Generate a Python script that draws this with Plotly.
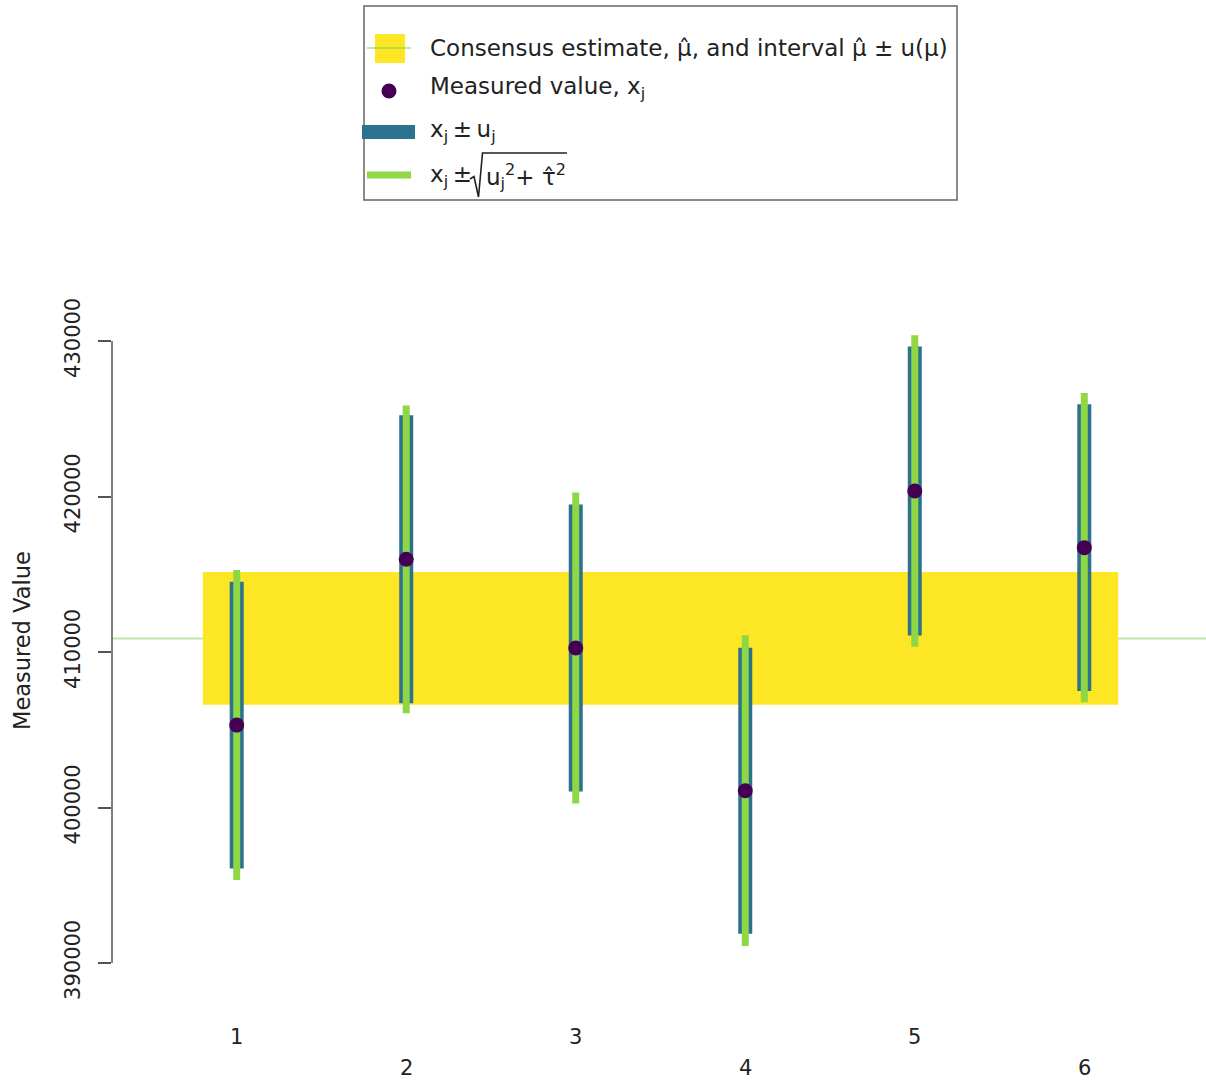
import plotly.graph_objects as go

# ---------------- data ----------------
labs = ["1", "2", "3", "4", "5", "6"]
idx = [1, 2, 3, 4, 5, 6]
meas = [405300, 415960, 410260, 401080, 420350, 416710]      # x_j
u_std = [9220, 9260, 9230, 9200, 9290, 9220]                 # u_j
u_tot = [9970, 9900, 10000, 9990, 10020, 9940]               # sqrt(u_j^2 + tau^2)
mu_hat = 410870
u_mu = 4270
band_x = [0.8, 6.2]
ytick_vals = [390000, 400000, 410000, 420000, 430000]
ytick_text = ["390000", "400000", "410000", "420000", "430000"]

# ---------------- styling ----------------
YELLOW = "#FDE725"
BLUE = "#2C718E"
GREEN = "#8FD744"
PURPLE = "#440154"
MULINE = "rgba(122,209,81,0.5)"
TXT = "#222222"
FONT = "DejaVu Sans"
FS_TICK = 21
FS_LAB = 22.5
FS_LEG = 23

W, H = 1206, 1083
L, R, T, B = 112, 0, 300, 83
PW, PH = W - L - R, H - T - B


def px(x):
    return (x - L) / PW


def py(y):
    return (H - B - y) / PH


pix_per_unit = 155.5 / 10000
y_top = 430000 + (341 - T) / pix_per_unit
y_bot = 430000 - ((H - B) - 341) / pix_per_unit
x_left = 1 - (236.7 - L) / 169.5
x_right = 6 + (W - R - 1084.3) / 169.5

fig = go.Figure()

# x_j +- u_j (blue, wide)
bx, by = [], []
for i, v, s in zip(idx, meas, u_std):
    bx += [i, i, None]
    by += [v - s, v + s, None]
fig.add_trace(go.Scatter(x=bx, y=by, mode="lines",
                         line=dict(color=BLUE, width=14), hoverinfo="skip",
                         showlegend=False))

# x_j +- sqrt(u^2+tau^2) (green, thin)
gx, gy = [], []
for i, v, s in zip(idx, meas, u_tot):
    gx += [i, i, None]
    gy += [v - s, v + s, None]
fig.add_trace(go.Scatter(x=gx, y=gy, mode="lines",
                         line=dict(color=GREEN, width=7), hoverinfo="skip",
                         showlegend=False))

# measured values
fig.add_trace(go.Scatter(x=idx, y=meas, mode="markers",
                         marker=dict(color=PURPLE, size=15, line=dict(width=0)),
                         showlegend=False))

shapes = []
shapes.append(dict(type="rect", xref="x", yref="y", x0=band_x[0], x1=band_x[1],
                   y0=mu_hat - u_mu, y1=mu_hat + u_mu, fillcolor=YELLOW,
                   line=dict(width=0), layer="below"))
shapes.append(dict(type="line", xref="paper", yref="y", x0=0, x1=1,
                   y0=mu_hat, y1=mu_hat, line=dict(color=MULINE, width=2),
                   layer="below"))
shapes.append(dict(type="line", xref="paper", yref="y", x0=0, x1=0,
                   y0=ytick_vals[0], y1=ytick_vals[-1],
                   line=dict(color="#555555", width=1.5)))

# ---------------- legend (manual, R style) ----------------
shapes.append(dict(type="rect", xref="paper", yref="paper",
                   x0=px(364), x1=px(957), y0=py(6), y1=py(200),
                   line=dict(color="#666666", width=1.5), fillcolor="rgba(0,0,0,0)"))
shapes.append(dict(type="rect", xref="paper", yref="paper",
                   x0=px(375), x1=px(405), y0=py(34), y1=py(63),
                   line=dict(width=0), fillcolor=YELLOW))
shapes.append(dict(type="line", xref="paper", yref="paper",
                   x0=px(367), x1=px(411), y0=py(48), y1=py(48),
                   line=dict(color=MULINE, width=2)))
shapes.append(dict(type="circle", xref="paper", yref="paper",
                   x0=px(381.5), x1=px(396.5), y0=py(83.5), y1=py(98.5),
                   line=dict(width=0), fillcolor=PURPLE))
shapes.append(dict(type="line", xref="paper", yref="paper",
                   x0=px(362), x1=px(415), y0=py(132), y1=py(132),
                   line=dict(color=BLUE, width=14)))
shapes.append(dict(type="line", xref="paper", yref="paper",
                   x0=px(367), x1=px(411), y0=py(175), y1=py(175),
                   line=dict(color=GREEN, width=7)))
# radical sign with vinculum
rad = [(470, 179), (474, 176.5), (478.5, 197), (482.5, 153), (567, 153)]
path = "M " + " L ".join(f"{px(a):.5f},{py(b):.5f}" for a, b in rad)
shapes.append(dict(type="path", xref="paper", yref="paper", path=path,
                   line=dict(color=TXT, width=1.6)))

TH = "\u2009"  # thin space
annotations = []
leg_text = [
    ("Consensus estimate, μ̂, and interval μ̂ ± u(μ)", 428, 48),
    ("Measured value, x<sub>j</sub>", 428, 88),
    (f"x<sub>j</sub>{TH}±{TH}u<sub>j</sub>", 428, 131),
    (f"x<sub>j</sub>{TH}±", 428, 176),
    ("u<sub>j</sub><sup>2</sup>+ τ̂<sup>2</sup>", 484, 176),
]
for txt, xx, yy in leg_text:
    annotations.append(dict(text=txt, xref="paper", yref="paper", x=px(xx), y=py(yy),
                            xanchor="left", yanchor="middle", showarrow=False,
                            font=dict(family=FONT, size=FS_LEG, color=TXT)))

# x tick labels, staggered like R does when they don't fit
for k, (i, lab) in enumerate(zip(idx, labs)):
    yy = 1037 if k % 2 == 0 else 1068
    annotations.append(dict(text=lab, xref="x", yref="paper", x=i, y=py(yy),
                            xanchor="center", yanchor="middle", showarrow=False,
                            font=dict(family=FONT, size=FS_TICK, color=TXT)))

# y axis title
annotations.append(dict(text="Measured Value", xref="paper", yref="paper",
                        x=px(22), y=py(641), xanchor="center", yanchor="middle",
                        textangle=-90, showarrow=False,
                        font=dict(family=FONT, size=FS_LAB, color=TXT)))

fig.update_layout(
    width=W, height=H,
    margin=dict(l=L, r=R, t=T, b=B),
    paper_bgcolor="white", plot_bgcolor="white",
    shapes=shapes, annotations=annotations,
    showlegend=False,
    xaxis=dict(range=[x_left, x_right], showticklabels=False, showgrid=False,
               zeroline=False, showline=False, ticks=""),
    yaxis=dict(range=[y_bot, y_top], tickvals=ytick_vals, ticktext=ytick_text,
               tickangle=-90, ticks="outside", ticklen=13, tickwidth=1.5,
               tickcolor="#555555", showgrid=False, zeroline=False, showline=False,
               ticklabelstandoff=10,
               tickfont=dict(family=FONT, size=FS_TICK, color=TXT)),
)

fig.write_html("out.html",
               config={"displayModeBar": False},
               post_script="document.body.style.margin='0';"
                           "document.body.style.overflow='hidden';")
